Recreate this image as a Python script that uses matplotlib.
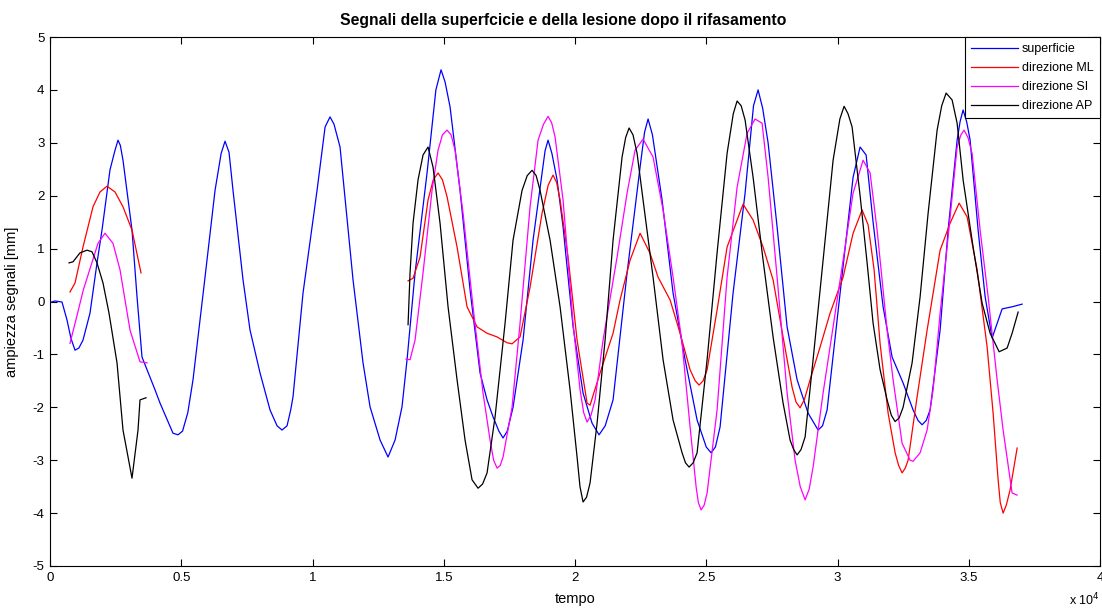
import numpy as np
import matplotlib
matplotlib.use('Agg')
import matplotlib.pyplot as plt

plt.rcParams['font.family'] = ['Liberation Sans', 'DejaVu Sans']
plt.rcParams['axes.unicode_minus'] = False

# superficie
sup_t = [0, 190, 457, 648, 800, 953, 1100, 1257, 1524, 1791, 1981, 2286, 2477, 2591, 2680, 2781,
         3124, 3315, 3505, 3696, 4001, 4191, 4686, 4877, 5050, 5250, 5448, 5906, 6287, 6520,
         6668, 6820, 6972, 7353, 7620, 8001, 8382, 8650, 8839, 9030, 9170, 9258, 9639, 10173,
         10480, 10668, 10820, 11049, 11544, 11925, 12192, 12575, 12878, 13145, 13410, 13602,
         13907, 14364, 14700, 14897, 15050, 15240, 15621, 16002, 16383, 16650, 16878, 17100,
         17259, 17420, 17640, 18021, 18402, 18745, 18860, 18974, 19120, 19317, 19545, 19926,
         20307, 20650, 20917, 21150, 21450, 21984, 22479, 22650, 22784, 22950, 23317, 23736,
         24194, 24651, 25000, 25184, 25350, 25527, 26022, 26480, 26800, 26975, 27150, 27356,
         27699, 28080, 28461, 28880, 29261, 29430, 29604, 30099, 30594, 30861, 31090, 31356,
         31737, 32080, 32499, 32880, 33070, 33223, 33380, 33528, 33909, 34214, 34557, 34670,
         34785, 34920, 35052, 35357, 35624, 35890, 36271, 36652, 37033]
sup_y = [-0.02, 0.01, -0.01, -0.35, -0.70, -0.92, -0.88, -0.73, -0.22, 0.73, 1.35, 2.49, 2.86, 3.05, 2.95, 2.67,
         1.35, 0.09, -1.05, -1.29, -1.67, -1.92, -2.49, -2.52, -2.45, -2.10, -1.48, 0.46, 2.10, 2.80,
         3.03, 2.82, 2.10, 0.41, -0.54, -1.35, -2.05, -2.35, -2.43, -2.35, -2.05, -1.80, 0.16, 2.10,
         3.30, 3.49, 3.35, 2.92, 0.41, -1.16, -1.99, -2.62, -2.94, -2.62, -1.99, -1.10,
         0.54, 2.43, 4.00, 4.38, 4.15, 3.68, 2.10, 0.22, -1.35, -1.86, -2.18, -2.45,
         -2.58, -2.45, -2.00, -0.73, 1.16, 2.43, 2.85, 3.05, 2.80, 2.30, 1.41, -0.47,
         -1.73, -2.30, -2.52, -2.35, -1.86, 0.54, 2.54, 3.20, 3.45, 3.15, 1.92, 0.16,
         -1.10, -2.24, -2.75, -2.86, -2.75, -2.37, 0.16, 2.05, 3.70, 4.00, 3.65, 3.00,
         1.41, -0.48, -1.48, -2.11, -2.43, -2.35, -2.05, 0.16, 2.35, 2.92, 2.77, 1.50,
         -0.10, -1.05, -1.54, -2.05, -2.25, -2.33, -2.25, -2.05, -0.54, 1.35, 3.05, 3.40,
         3.62, 3.40, 3.05, 1.35, 0.09, -0.69, -0.14, -0.10, -0.05]

# direzione ML (two pieces)
ml1_t = [762, 953, 1257, 1638, 1905, 2172, 2477, 2781, 3124, 3467]
ml1_y = [0.18, 0.35, 1.03, 1.79, 2.07, 2.18, 2.07, 1.79, 1.35, 0.54]
ml2_t = [13640, 13830, 14097, 14402, 14600, 14783, 14950, 15126, 15507, 15888, 16269, 16650,
         17031, 17412, 17602, 17907, 18288, 18745, 18980, 19164, 19300, 19431, 19736, 20079,
         20460, 20574, 20955, 21450, 21717, 22098, 22479, 22860, 23165, 23622, 24003, 24384,
         24580, 24727, 24880, 25032, 25413, 25794, 26403, 26784, 27165, 27546, 27927, 28270,
         28420, 28575, 28740, 28956, 29337, 29718, 30213, 30594, 30937, 31166, 31394, 31623,
         31928, 32195, 32330, 32461, 32580, 32690, 33033, 33414, 33909, 34290, 34633, 34938,
         35319, 35700, 35928, 36119, 36200, 36309, 36430, 36576, 36843]
ml2_y = [0.39, 0.44, 0.84, 1.92, 2.30, 2.43, 2.30, 1.98, 1.03, -0.10, -0.48, -0.60,
         -0.67, -0.78, -0.80, -0.67, 0.27, 1.67, 2.20, 2.39, 2.25, 1.92, 0.84, -0.73,
         -1.92, -1.96, -1.35, -0.60, 0.03, 0.78, 1.29, 0.91, 0.46, 0.03, -0.60, -1.29,
         -1.50, -1.58, -1.50, -1.29, -0.16, 1.03, 1.84, 1.54, 1.03, 0.41, -0.67, -1.62,
         -1.90, -2.01, -1.85, -1.48, -0.86, -0.22, 0.46, 1.29, 1.73, 1.45, 0.60, -0.80,
         -2.11, -2.86, -3.10, -3.24, -3.15, -3.00, -1.80, -0.54, 0.97, 1.48, 1.86, 1.60,
         0.60, -0.86, -2.11, -3.37, -3.80, -4.00, -3.85, -3.56, -2.77]

# direzione SI (two pieces)
si1_t = [762, 1016, 1270, 1588, 1829, 2095, 2400, 2667, 3048, 3429, 3696]
si1_y = [-0.79, -0.29, 0.22, 0.72, 1.10, 1.29, 1.10, 0.60, -0.54, -1.14, -1.16]
si2_t = [13564, 13716, 13907, 14211, 14554, 14783, 14950, 15126, 15280, 15431, 15735, 16116,
         16497, 16764, 16900, 17031, 17150, 17259, 17602, 17907, 18288, 18593, 18800, 18974,
         19110, 19241, 19545, 19926, 20193, 20330, 20460, 20610, 20765, 21069, 21603, 21984,
         22289, 22593, 22974, 23355, 23736, 24079, 24384, 24613, 24700, 24803, 24920, 25032,
         25413, 25794, 26175, 26556, 26861, 27127, 27356, 27699, 28080, 28385, 28580, 28766,
         28920, 29070, 29451, 29832, 30213, 30594, 30975, 31242, 31509, 31890, 32118, 32461,
         32766, 32880, 33147, 33414, 33642, 33909, 34176, 34557, 34700, 34823, 34970, 35128,
         35433, 35738, 36081, 36309, 36652, 36843]
si2_y = [-1.09, -1.10, -0.73, 0.54, 2.10, 2.86, 3.15, 3.24, 3.15, 2.86, 1.67, -0.10,
         -1.73, -2.62, -3.00, -3.15, -3.10, -2.94, -2.00, -0.41, 1.79, 3.05, 3.35, 3.50,
         3.38, 3.11, 1.92, -0.41, -1.67, -2.10, -2.28, -2.15, -1.86, -0.73, 0.84, 2.05,
         2.86, 3.07, 2.73, 1.73, 0.46, -0.79, -2.37, -3.50, -3.80, -3.94, -3.85, -3.62,
         -2.05, 0.46, 2.16, 3.18, 3.45, 3.37, 2.35, 0.46, -1.73, -3.00, -3.50, -3.75,
         -3.55, -3.13, -1.73, -0.48, 0.78, 2.05, 2.67, 2.43, 1.35, -0.54, -1.48, -2.68,
         -3.00, -3.02, -2.86, -2.43, -1.67, -0.22, 1.03, 2.92, 3.15, 3.24, 3.10, 2.80,
         1.35, 0.09, -1.48, -2.43, -3.62, -3.66]

# direzione AP (two pieces)
ap1_t = [724, 876, 1143, 1410, 1600, 1791, 2019, 2248, 2553, 2781, 3124, 3353, 3429, 3658]
ap1_y = [0.73, 0.75, 0.92, 0.97, 0.94, 0.73, 0.35, -0.22, -1.16, -2.43, -3.34, -2.43, -1.86, -1.82]
ap2_t = [13640, 13716, 13830, 14021, 14211, 14402, 14592, 14859, 15164, 15507, 15812, 16078,
         16307, 16480, 16650, 16955, 17336, 17640, 17983, 18180, 18364, 18520, 18669, 19050,
         19431, 19812, 20079, 20190, 20307, 20440, 20574, 20841, 21146, 21450, 21793, 21930,
         22060, 22210, 22365, 22593, 22974, 23355, 23736, 24079, 24210, 24346, 24500, 24651,
         25032, 25413, 25794, 26030, 26175, 26330, 26480, 26784, 27165, 27546, 27927, 28194,
         28330, 28461, 28610, 28766, 29070, 29451, 29832, 30090, 30251, 30400, 30556, 30861,
         31128, 31356, 31623, 31890, 32050, 32195, 32350, 32499, 32842, 33147, 33452, 33795,
         33970, 34138, 34366, 34557, 34785, 35166, 35509, 35814, 36157, 36462, 36652, 36881]
ap2_y = [-0.44, 0.54, 1.48, 2.30, 2.77, 2.92, 2.54, 1.48, -0.10, -1.48, -2.62, -3.37,
         -3.53, -3.45, -3.24, -2.18, -0.41, 1.16, 2.10, 2.38, 2.48, 2.38, 2.10, 1.16,
         -0.10, -1.67, -2.94, -3.50, -3.79, -3.70, -3.43, -2.30, -0.73, 1.16, 2.73, 3.10,
         3.28, 3.15, 2.80, 1.92, 0.46, -1.10, -2.24, -2.86, -3.05, -3.13, -3.05, -2.86,
         -1.10, 0.92, 2.80, 3.55, 3.79, 3.70, 3.43, 2.35, 0.78, -0.67, -1.92, -2.62,
         -2.80, -2.90, -2.80, -2.56, -1.10, 0.78, 2.67, 3.45, 3.69, 3.55, 3.30, 2.00,
         0.73, -0.41, -1.29, -1.86, -2.15, -2.27, -2.20, -2.00, -1.16, 0.09, 1.67, 3.24,
         3.70, 3.94, 3.81, 3.37, 2.30, 1.03, -0.03, -0.60, -0.95, -0.88, -0.60, -0.20]

xticks = [0, 5000, 10000, 15000, 20000, 25000, 30000, 35000, 40000]
xtick_labels = ['0', '0.5', '1', '1.5', '2', '2.5', '3', '3.5', '4']
yticks = list(range(-5, 6))

fig = plt.figure(figsize=(11.02, 6.10), dpi=100)
ax = fig.add_axes([50 / 1102, 44 / 610, 1050 / 1102, 529 / 610])

lw = 0.9
l1, = ax.plot(sup_t, sup_y, color='#0000ff', lw=lw)
ax.plot(ml1_t, ml1_y, color='#ff0000', lw=lw)
l2, = ax.plot(ml2_t, ml2_y, color='#ff0000', lw=lw)
ax.plot(si1_t, si1_y, color='#ff00ff', lw=lw)
l3, = ax.plot(si2_t, si2_y, color='#ff00ff', lw=lw)
ax.plot(ap1_t, ap1_y, color='#000000', lw=lw)
l4, = ax.plot(ap2_t, ap2_y, color='#000000', lw=lw)

ax.set_xlim(0, 40000)
ax.set_ylim(-5, 5)
ax.set_xticks(xticks)
ax.set_xticklabels(xtick_labels)
ax.set_yticks(yticks)
ax.tick_params(direction='in', length=5, width=0.8, top=True, right=True,
               labelsize=9.5, pad=4, colors='black')
for s in ax.spines.values():
    s.set_linewidth(0.8)

ax.set_title('Segnali della superfcicie e della lesione dopo il rifasamento',
             fontsize=11.3, fontweight='bold', pad=9, x=0.489)
ax.set_xlabel('tempo', fontsize=10.5, labelpad=6)
ax.set_ylabel('ampiezza segnali [mm]', fontsize=10.5, labelpad=10)
fig.text(1069 / 1102, 2 / 610, r'x 10$^{4}$', fontsize=9, ha='left', va='bottom')

leg = ax.legend([l1, l2, l3, l4], ['superficie', 'direzione ML', 'direzione SI', 'direzione AP'],
                loc='upper right', bbox_to_anchor=(1.0, 1.0), borderaxespad=0,
                fontsize=9, handlelength=3.8, labelspacing=0.55, handletextpad=0.3,
                borderpad=0.5, fancybox=False, framealpha=1)
leg.get_frame().set_edgecolor('black')
leg.get_frame().set_linewidth(0.8)

fig.savefig('out.png', dpi=100)
